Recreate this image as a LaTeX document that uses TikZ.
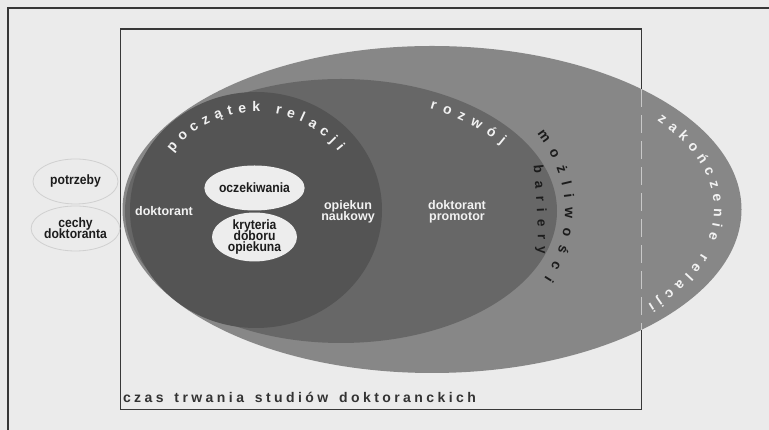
\documentclass[tikz,border=0pt]{standalone}
\usepackage{fontspec}
\setmainfont{Liberation Sans}
\newfontfamily\narrowfont{Liberation Sans}[FakeStretch=0.9]
\usetikzlibrary{decorations.text,shapes.geometric}
\definecolor{bg}{HTML}{EBEBEB}
\definecolor{outerg}{HTML}{878787}
\definecolor{midg}{HTML}{676767}
\definecolor{innerg}{HTML}{545454}
\definecolor{pale}{HTML}{EDEDED}
\definecolor{linec}{HTML}{383838}
\definecolor{dashc}{HTML}{C8C8C8}
\definecolor{inkc}{HTML}{1C1C1C}
\definecolor{rimc}{HTML}{D0D0D0}
\definecolor{whitec}{HTML}{F2F2F2}
\newcommand\curvwhite{\color{whitec}\fontsize{14}{14}\selectfont\bfseries}
\newcommand\curvblack{\color{inkc}\fontsize{14}{14}\selectfont\bfseries}
\newcommand\curvsmall{\color{inkc}\fontsize{13.5}{14}\selectfont\bfseries}
\newcommand\straighttext{\color{inkc!90!white}\fontsize{14}{14}\selectfont\bfseries}
\AtBeginDocument{\lineskiplimit=-20pt\relax}
\begin{document}
\begin{tikzpicture}[x=1pt,y=1pt,
  frameline/.style={draw=linec,line width=1.2pt},
  boxline/.style={draw=linec,line width=1.3pt},
  dashline/.style={draw=dashc,line width=1.3pt,dash pattern=on 18pt off 8pt},
  wlab/.style={font=\bfseries\fontsize{12.5}{11.3}\selectfont,
    text=whitec,align=center,inner sep=0pt},
  whiteell/.style={ellipse,fill=pale,minimum width=85pt,minimum height=45pt,inner sep=0pt,
    font=\narrowfont\bfseries\fontsize{13.5}{11}\selectfont,text=inkc,align=center},
  paleell/.style={ellipse,fill=bg,draw=rimc,line width=0.8pt,minimum width=85pt,minimum height=45pt,inner sep=0pt,
    font=\narrowfont\bfseries\fontsize{13.5}{11}\selectfont,text=inkc,align=center},
  curved/.style={decorate,decoration={text along path,text align=fit to path,text={#1}}}
]
\useasboundingbox (0,0) rectangle (769,430);
\fill[bg] (0,0) rectangle (769,430);
\draw[frameline] (8,0) -- (8,422) -- (769,422);
\draw[boxline] (120.5,20.5) rectangle (641.5,401);
% ellipses
\fill[outerg] (432,220.5) ellipse [x radius=309.5, y radius=163.5];
\coordinate (dtop) at (641.5,340.8);
\coordinate (dbot) at (641.5,100.2);
\draw[dashline] (dtop) -- (dbot);
\fill[midg] (341,219) ellipse [x radius=216, y radius=132];
\fill[innerg] (256,220) ellipse [x radius=126, y radius=118];
% small ellipses
\node[whiteell] (oczek) at (254.5,242) {oczekiwania};
\node[whiteell,minimum height=44pt] (kryt) at (254.5,193) {kryteria\\doboru\\opiekuna};
\node[paleell] (potrz) at (75.5,248.5) {potrzeby};
\node[paleell] (cechy) at (75.5,201.5) {cechy\\doktoranta};
% labels
\node[wlab] (dokt) at (164,219) {doktorant};
\node[wlab] (opiek) at (348,218) {opiekun\\naukowy};
\node[wlab] (promo) at (457,218) {doktorant\\promotor};
% curved texts
\path[curved={|\curvwhite|początek relacji}]
  ([shift={(144:103 and 98)}]256,220) arc[start angle=144,end angle=37,x radius=103,y radius=98];
\path[curved={|\curvwhite|rozwój}]
  ([shift={(63:196 and 115)}]341,219) arc[start angle=63,end angle=35,x radius=196,y radius=115];
\path[curved={|\curvblack|możliwości}]
  ([shift={(29:224 and 160)}]341,219) arc[start angle=29,end angle=-25,x radius=224,y radius=160];
\path[curved={|\curvsmall|bariery}]
  (533.5,264) .. controls (536.5,235) and (538,210) .. (538,176);
\path[curved={|\curvwhite|zakończenie relacji}]
  ([shift={(37:282 and 148)}]432,220.5) arc[start angle=37,end angle=-40,x radius=282,y radius=148];
\path[curved={|\straighttext|czas trwania studiów doktoranckich}]
  (123,27) -- (476,27);
\end{tikzpicture}
\end{document}
